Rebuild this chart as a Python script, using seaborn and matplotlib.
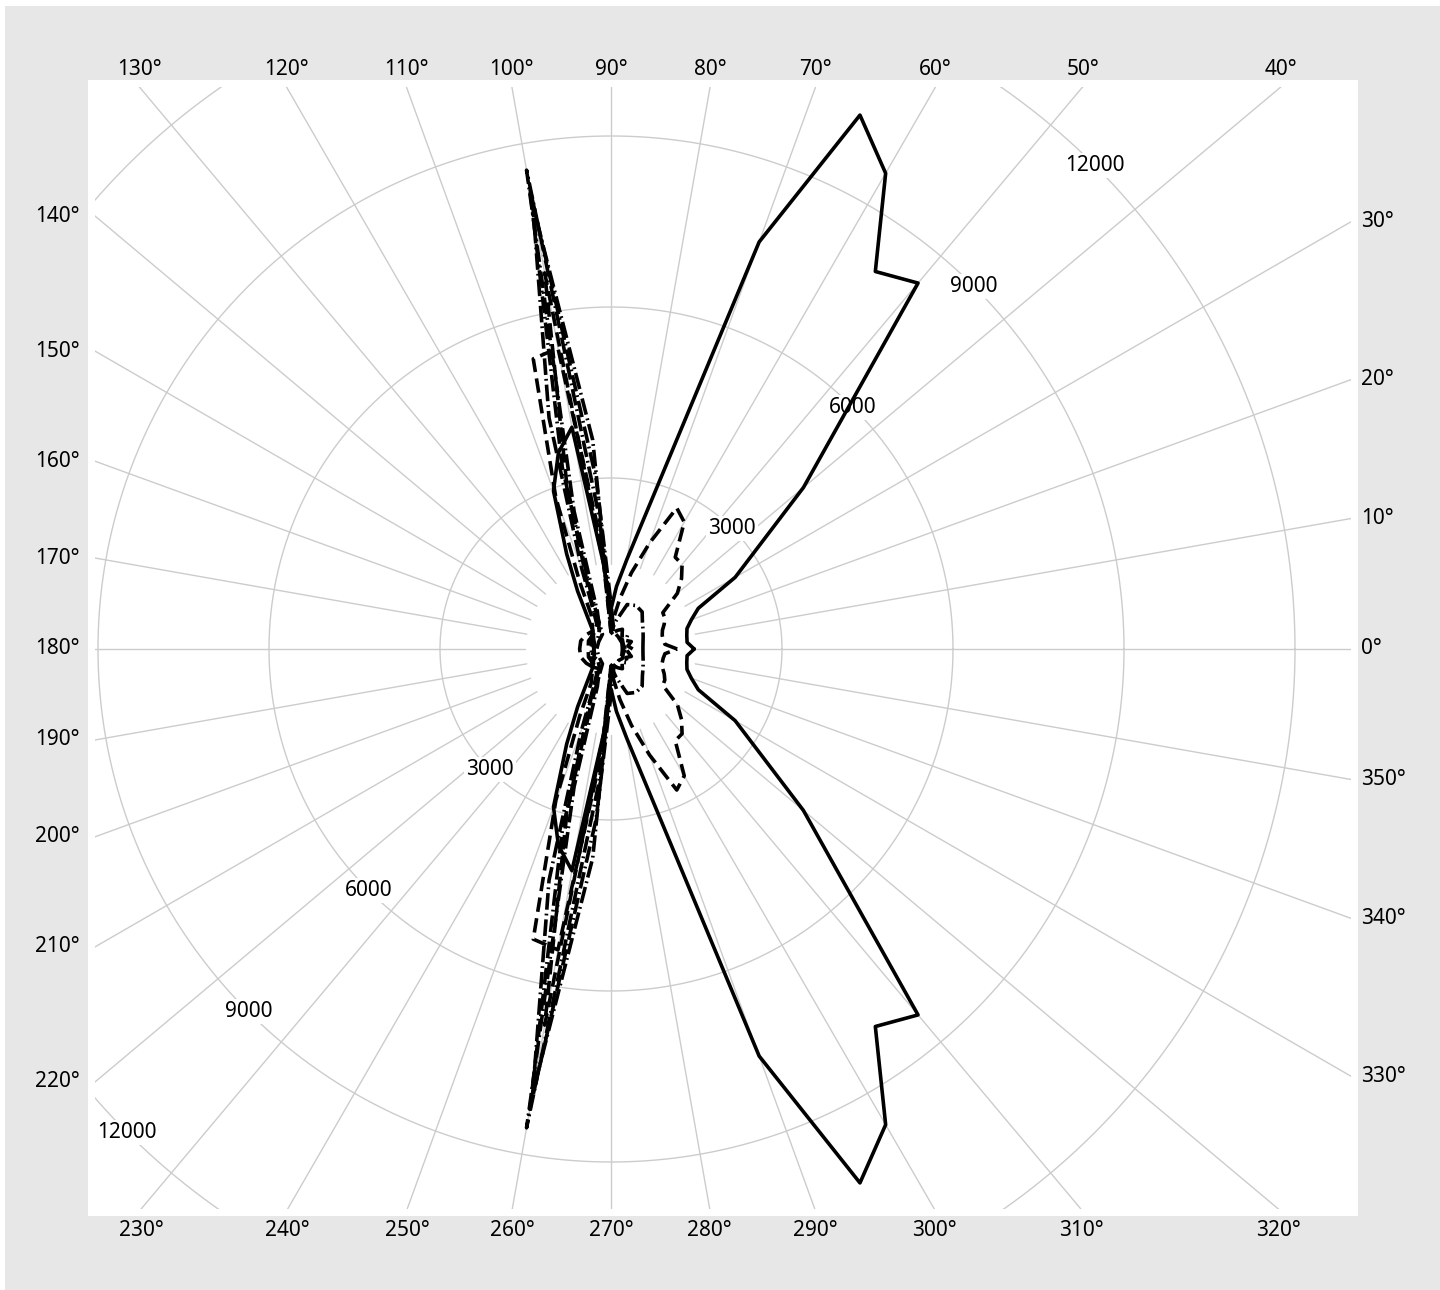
import numpy as np
import pandas as pd
import seaborn as sns
import matplotlib.pyplot as plt
from matplotlib.patches import Rectangle

# -----------------------------
# Data (angle in degrees, radius)
# -----------------------------
solid_theta = [0, 5, 10, 15, 20, 25, 30, 40, 50, 55, 60, 65, 70, 80, 85, 90, 95, 100, 105, 110, 115, 120,
               135, 150, 165, 180, 195, 210, 225, 240, 245, 250, 255, 260, 265, 270, 275, 280, 290,
               295, 300, 305, 310, 320, 330, 335, 340, 345, 350, 355, 360]
solid_r = [1460, 1340, 1350, 1380, 1500, 1690, 2515, 4407, 8380, 8085, 9637, 10335, 7600, 1590, 1100, 700,
           1500, 3950, 3565, 2950, 1840, 1170, 450, 350, 300, 300, 300, 350, 450, 1170, 1840, 2950, 3565,
           3950, 1500, 700, 1100, 1590, 7600, 10335, 9637, 8085, 8380, 4407, 2515, 1690, 1500, 1380,
           1350, 1340, 1460]

dashed_theta = [0, 5, 10, 15, 20, 25, 30, 35, 40, 45, 50, 55, 60, 65, 70, 75, 80, 85, 90, 95, 100, 105,
                110, 115, 120, 135, 150, 165, 180, 195, 210, 225, 240, 245, 250, 255, 260, 265, 270,
                275, 280, 285, 290, 295, 300, 305, 310, 315, 320, 325, 330, 335, 340, 345, 350, 355, 360]
dashed_r = [1160, 950, 930, 930, 960, 1030, 1090, 1110, 1520, 1750, 1940, 1965, 2570, 2730, 1980, 1385,
            900, 550, 400, 1800, 5360, 5270, 2830, 1300, 700, 450, 500, 550, 550, 550, 500, 450, 700,
            1300, 2830, 5270, 5360, 1800, 400, 550, 900, 1385, 1980, 2730, 2570, 1965, 1940, 1750,
            1520, 1110, 1090, 1030, 960, 930, 930, 950, 1160]

dashed2_theta = [0, 20, 40, 60, 80, 90, 95, 100, 105, 110, 120, 140, 160, 180, 200, 220, 240, 250,
                 255, 260, 265, 270, 280, 300, 320, 340, 360]
dashed2_r = [250, 230, 260, 240, 250, 300, 1500, 6700, 3000, 1200, 500, 400, 420, 400, 420, 400,
             500, 1200, 3000, 6700, 1500, 300, 250, 240, 260, 230, 250]

dashdot_theta = [0, 10, 20, 30, 40, 50, 60, 70, 80, 90, 95, 100, 105, 110, 120, 135, 150, 165, 180,
                 195, 210, 225, 240, 250, 255, 260, 265, 270, 280, 290, 300, 310, 320, 330, 340, 350, 360]
dashdot_r = [560, 570, 600, 650, 720, 850, 880, 830, 500, 300, 2300, 8530, 2500, 700, 400, 450, 400,
             350, 350, 350, 400, 450, 400, 700, 2500, 8530, 2300, 300, 500, 830, 880, 850, 720, 650,
             600, 570, 560]

dashdot2_theta = [0, 10, 20, 30, 40, 50, 60, 70, 80, 90, 95, 100, 105, 110, 115, 120, 140, 160, 180,
                  200, 220, 240, 245, 250, 255, 260, 265, 270, 280, 290, 300, 310, 320, 330, 340, 350, 360]
dashdot2_r = [380, 300, 380, 300, 380, 300, 400, 350, 300, 500, 3680, 7900, 4200, 1500, 700, 400, 300,
              350, 300, 350, 300, 400, 700, 1500, 4200, 7900, 3680, 500, 300, 350, 400, 300, 380, 300,
              380, 300, 380]

dashdot3_theta = [0, 30, 60, 80, 90, 95, 100, 105, 110, 120, 150, 180, 210, 240, 250, 255, 260, 265,
                  270, 280, 300, 330, 360]
dashdot3_r = [200, 220, 250, 300, 800, 3000, 8200, 3300, 1000, 300, 250, 250, 250, 300, 1000, 3300,
              8200, 3000, 800, 300, 250, 220, 200]

ring_values = [3000, 6000, 9000, 12000]
spoke_angles = list(range(0, 360, 10))
ring_label_angles = [45, 225]

# -----------------------------
# Build long table in cartesian coordinates
# -----------------------------
traces = [
    ("solid", solid_theta, solid_r),
    ("dashed", dashed_theta, dashed_r),
    ("dashed2", dashed2_theta, dashed2_r),
    ("dashdot", dashdot_theta, dashdot_r),
    ("dashdot2", dashdot2_theta, dashdot2_r),
    ("dashdot3", dashdot3_theta, dashdot3_r),
]
frames = []
for name, th, r in traces:
    th = np.radians(th)
    r = np.asarray(r, dtype=float)
    frames.append(pd.DataFrame({"x": r * np.cos(th), "y": r * np.sin(th), "trace": name}))
df = pd.concat(frames, ignore_index=True)

dash_map = {
    "solid": "",
    "dashed": (4.0, 1.8),
    "dashed2": (4.0, 1.8),
    "dashdot": (4.6, 1.1, 0.5, 1.1),
    "dashdot2": (4.6, 1.1, 0.5, 1.1),
    "dashdot3": (4.6, 1.1, 0.5, 1.1),
}

# -----------------------------
# Figure
# -----------------------------
sns.set_style("white")
plt.rcParams["font.family"] = ["Noto Sans", "DejaVu Sans"]
plt.rcParams["text.color"] = "black"

W, H = 1440, 1290
cx, cy = 611, 649            # pixel position of the pole
k = 12000 / 684              # data units per pixel
px0, px1, py0, py1 = 88, 1358, 80, 1216

fig = plt.figure(figsize=(W / 100, H / 100), dpi=100, facecolor="white")
fig.patches.append(Rectangle((5 / W, 0), 1, (H - 6) / H, transform=fig.transFigure,
                             facecolor="#e7e7e7", edgecolor="none", zorder=-10))
ax = fig.add_axes([px0 / W, 1 - py1 / H, (px1 - px0) / W, (py1 - py0) / H])
ax.set_facecolor("white")
xlim = ((px0 - cx) * k, (px1 - cx) * k)
ylim = (-(py1 - cy) * k, (cy - py0) * k)
ax.set_xlim(xlim)
ax.set_ylim(ylim)
ax.set_xticks([])
ax.set_yticks([])
for sp in ax.spines.values():
    sp.set_visible(False)

# grid clipped slightly inside the plot area
pad = 7 * k
clip = Rectangle((xlim[0] + pad, ylim[0] + pad), xlim[1] - xlim[0] - 2 * pad,
                 ylim[1] - ylim[0] - 2 * pad, transform=ax.transData)
grid_col = "#cccccc"
t = np.linspace(0, 2 * np.pi, 721)
for rv in ring_values:
    ln, = ax.plot(rv * np.cos(t), rv * np.sin(t), color=grid_col, lw=1.0, zorder=1)
    ln.set_clip_path(clip)
for a in spoke_angles:
    ar = np.radians(a)
    ln, = ax.plot([1500 * np.cos(ar), 30000 * np.cos(ar)], [1500 * np.sin(ar), 30000 * np.sin(ar)],
                  color=grid_col, lw=1.0, zorder=1)
    ln.set_clip_path(clip)

# radial tick labels
for rv in ring_values:
    for a in ring_label_angles:
        ar = np.radians(a)
        ax.text(rv * np.cos(ar), rv * np.sin(ar), str(rv), ha="center", va="center",
                fontsize=15, color="black", zorder=1.5,
                bbox=dict(facecolor="white", edgecolor="none", pad=1.5))

# angular tick labels where each spoke leaves the plot area
bx0, bx1 = xlim[0] + pad, xlim[1] - pad
by0, by1 = ylim[0] + pad, ylim[1] - pad
for a in spoke_angles:
    ar = np.radians(a)
    c, s = np.cos(ar), np.sin(ar)
    cands = []
    if c > 1e-9:
        cands.append((bx1 / c, "right"))
    if c < -1e-9:
        cands.append((bx0 / c, "left"))
    if s > 1e-9:
        cands.append((by1 / s, "top"))
    if s < -1e-9:
        cands.append((by0 / s, "bottom"))
    tt, side = min(cands)
    ex, ey = tt * c, tt * s
    lab = f"{a}°"
    kw = dict(textcoords="offset pixels", fontsize=15, color="black", annotation_clip=False)
    if side == "top":
        ax.annotate(lab, (ex, ylim[1]), xytext=(0, 5), ha="center", va="baseline", **kw)
    elif side == "bottom":
        ax.annotate(lab, (ex, ylim[0]), xytext=(0, -4), ha="center", va="top", **kw)
    elif side == "left":
        ax.annotate(lab, (xlim[0], ey), xytext=(-8, 0), ha="right", va="center", **kw)
    else:
        ax.annotate(lab, (xlim[1], ey), xytext=(3, 0), ha="left", va="center", **kw)

# data lines
sns.lineplot(data=df, x="x", y="y", style="trace", dashes=dash_map, units="trace",
             estimator=None, sort=False, color="black", linewidth=2.6, legend=False,
             ax=ax, zorder=2)
ax.set_xlabel("")
ax.set_ylabel("")
ax.set_xlim(xlim)
ax.set_ylim(ylim)

fig.savefig("out.png", dpi=100)
